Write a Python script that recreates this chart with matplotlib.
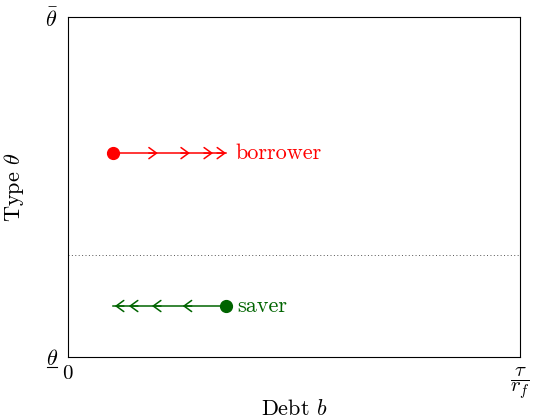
import matplotlib
matplotlib.use('Agg')
import matplotlib.pyplot as plt
from matplotlib.lines import Line2D

plt.rcParams['font.family'] = 'serif'
plt.rcParams['font.serif'] = ['cmr10']
plt.rcParams['mathtext.fontset'] = 'cm'
plt.rcParams['axes.formatter.use_mathtext'] = True

# debt runs from 0 to tau/r_f, type from theta_low to theta_high (both scaled to 0..1)
x_ticks = [0, 1]
x_ticklabels = ['$0$', r'$\dfrac{\tau}{r_f}$']
y_ticks = [0, 1]
y_ticklabels = [r'$\theta$', r'$\bar{\theta}$']

threshold = 0.3

borrower_theta = 0.6
borrower_path = [0.1, 0.35]
borrower_arrows = [0.199, 0.27, 0.321, 0.35]

saver_theta = 0.15
saver_path = [0.35, 0.1]
saver_arrows = [0.104, 0.135, 0.186, 0.254]

red = '#ff0000'
green = '#006400'

fig, ax = plt.subplots(figsize=(5.34, 4.19), dpi=100)
fig.subplots_adjust(left=0.127, right=0.974, top=0.959, bottom=0.148)

ax.axhline(threshold, color='#555555', linestyle=(0, (1, 2.5)), linewidth=0.7)


def draw_path(path, theta, arrows, color, label, label_dx):
    ax.plot(path, [theta, theta], color=color, linewidth=1.1)
    ax.plot(path[0], theta, 'o', color=color, markersize=8.5)
    direction = 1 if path[1] > path[0] else -1
    for tip in arrows:
        ax.annotate('', xy=(tip, theta), xytext=(tip - direction * 0.02, theta),
                    arrowprops=dict(arrowstyle='->,head_length=0.55,head_width=0.4',
                                    color=color, linewidth=1.1, shrinkA=0, shrinkB=0))
    ax.text(max(path) + label_dx, theta, label, color=color, fontsize=16,
            va='center', ha='left')


draw_path(borrower_path, borrower_theta, borrower_arrows, red, 'borrower', 0.02)
draw_path(saver_path, saver_theta, saver_arrows, green, 'saver', 0.025)

ax.set_xlim(0, 1)
ax.set_ylim(0, 1)
ax.set_xticks(x_ticks)
ax.set_xticklabels(x_ticklabels, fontsize=15)
ax.set_yticks(y_ticks)
ax.set_yticklabels(y_ticklabels, fontsize=16)
ax.tick_params(axis='x', length=0, pad=6)
ax.tick_params(axis='y', length=0, pad=7)
ax.set_xlabel('Debt $b$', fontsize=16, labelpad=-1)
ax.set_ylabel(r'Type $\theta$', fontsize=16, labelpad=14)

# underbar for the lower type bound
fig.add_artist(Line2D([0.088, 0.107], [0.124, 0.124], color='black', linewidth=0.8,
                      transform=fig.transFigure))

fig.savefig('out.png')
